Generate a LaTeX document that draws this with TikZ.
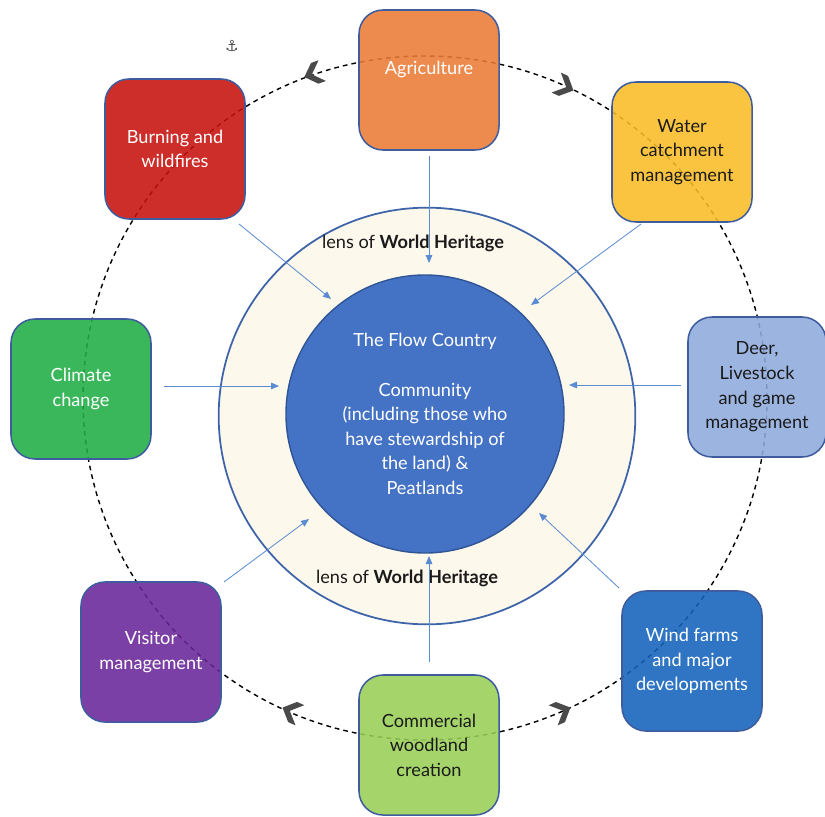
\documentclass[tikz,border=0pt]{standalone}
\usepackage{fontspec}
\setmainfont{Lato}
\newfontfamily\symfont{DejaVu Sans}
\usetikzlibrary{arrows.meta}
\definecolor{cAgri}{HTML}{EA7B35}
\definecolor{cWater}{HTML}{FABC26}
\definecolor{cDeer}{HTML}{8EAADC}
\definecolor{cWind}{HTML}{1262BC}
\definecolor{cComm}{HTML}{98CE56}
\definecolor{cVisit}{HTML}{692599}
\definecolor{cClim}{HTML}{20AD44}
\definecolor{cBurn}{HTML}{C6110D}
\definecolor{boxline}{HTML}{3E5C9E}
\definecolor{lensfill}{HTML}{FDF8EC}
\definecolor{lensline}{HTML}{3D63A8}
\definecolor{corefill}{HTML}{4472C4}
\definecolor{coreline}{HTML}{2F5597}
\definecolor{arrowblue}{HTML}{5B8BD0}
\definecolor{chevgray}{HTML}{4A4A4A}
\definecolor{txtdark}{HTML}{1A1A1A}
\tikzset{
  box/.style={draw=boxline, line width=1.3pt, rounded corners=0.72cm,
    minimum width=4.2cm, minimum height=4.2cm, fill opacity=0.88,
    text opacity=1, align=center, inner sep=0pt,
    font=\fontsize{15.5}{21}\selectfont},
  flow/.style={draw=arrowblue, line width=0.7pt,
    -{Triangle[length=0.24cm,width=0.2cm]}},
  ring/.style={draw=black, line width=1.2pt, dash pattern=on 4pt off 3.5pt},
  lenstext/.style={font=\fontsize{15.5}{21}\selectfont, text=txtdark},
  chev/.pic={\fill[chevgray] (6,0) -- (-5,11) -- (-13,11) -- (-2,0) -- (-13,-11) -- (-5,-11) -- cycle;}
}
\begin{document}
\begin{tikzpicture}[x=0.03cm,y=-0.03cm]
\useasboundingbox (0,0) rectangle (825,816);
% outer dashed cycle
\draw[ring] (425,398) circle[radius=342];
\pic[rotate=199.6] at (310,75) {chev};
\pic[rotate=-24.8] at (568,88) {chev};
\pic[rotate=156.3] at (288,710) {chev};
\pic[rotate=24.2] at (565,710) {chev};
\node[text=chevgray, font=\symfont\fontsize{13}{13}\selectfont] (anchor) at (232,46) {⚓};
% lens and core
\node[circle, draw=lensline, line width=1.5pt, fill=lensfill, minimum size=12.5cm, inner sep=0pt] (lens) at (427,416) {};
\node[circle, draw=coreline, line width=1.2pt, fill=corefill, minimum size=8.34cm, inner sep=0pt,
  text=white, align=center, font=\fontsize{15.5}{21}\selectfont] (core) at (425,414)
  {The Flow Country\\\mbox{}\\Community\\(including those who\\have stewardship of\\the land) \&\\Peatlands};
\node[lenstext] (lenstop) at (413,243) {lens of \textbf{World Heritage}};
\node[lenstext] (lensbot) at (407,578) {lens of \textbf{World Heritage}};
% boxes
\node[box, fill=cAgri, text=white] (agri) at (429,80) {Agriculture\\\mbox{}};
\node[box, fill=cWater, text=txtdark] (water) at (682,152) {Water\\catchment\\management};
\node[box, fill=cDeer, text=txtdark, minimum width=4.14cm] (deer) at (757,387) {Deer,\\Livestock\\and game\\management};
\node[box, fill=cWind, text=white] (wind) at (692,661) {Wind farms\\and major\\developments};
\node[box, fill=cComm, text=txtdark] (comm) at (429,745) {Commercial\\woodland\\creation};
\node[box, fill=cVisit, text=white] (visit) at (151,652) {Visitor\\management};
\node[box, fill=cClim, text=white] (clim) at (81,389) {Climate\\change};
\node[box, fill=cBurn, text=white] (burn) at (175,149) {Burning and\\wildfires};
% arrow end points
\coordinate (a1) at (429,156); \coordinate (b1) at (429,263);
\coordinate (a2) at (239,224); \coordinate (b2) at (331,299);
\coordinate (a3) at (641,224); \coordinate (b3) at (531,305);
\coordinate (a4) at (164,386); \coordinate (b4) at (279,386);
\coordinate (a5) at (681,385); \coordinate (b5) at (569,385);
\coordinate (a6) at (224,582); \coordinate (b6) at (309,519);
\coordinate (a7) at (619,588); \coordinate (b7) at (539,513);
\coordinate (a8) at (429,662); \coordinate (b8) at (429,556);
\foreach \i in {1,...,8} {\draw[flow] (a\i) -- (b\i);}
\end{tikzpicture}
\end{document}
